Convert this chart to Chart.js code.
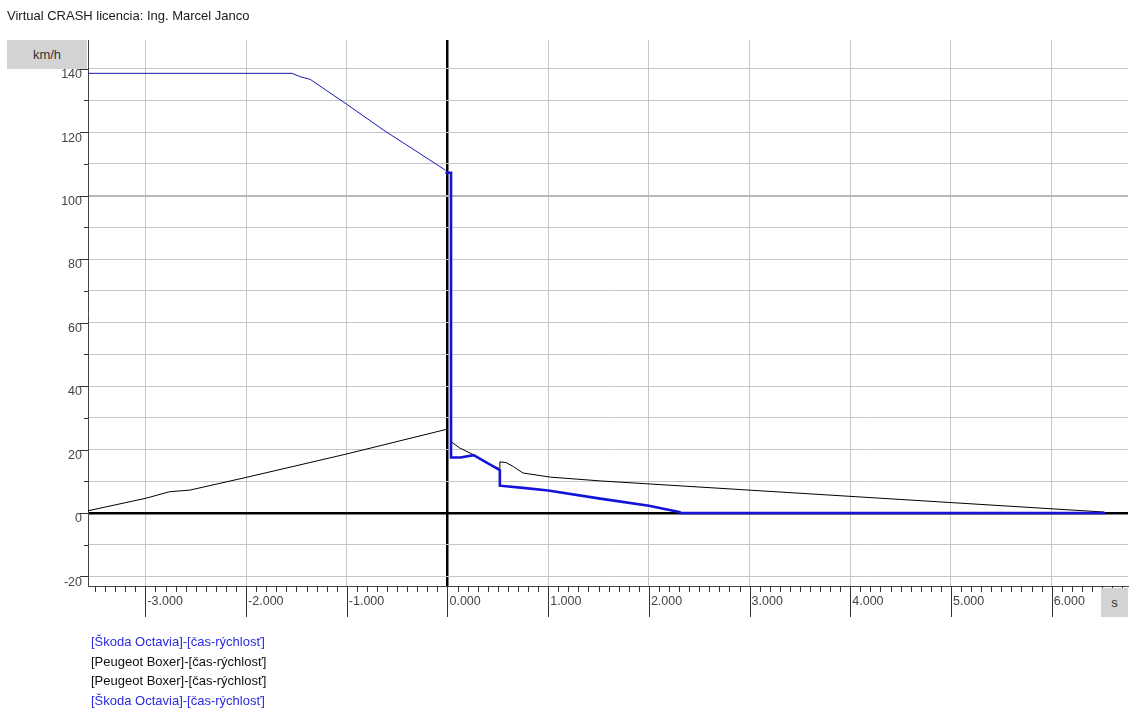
<!DOCTYPE html>
<html>
<head>
<meta charset="utf-8">
<script src="https://cdn.jsdelivr.net/npm/chart.js@4.4.1/dist/chart.umd.min.js"></script>
<style>
  html, body { margin:0; padding:0; background:#fff; }
  body { width:1130px; height:720px; position:relative; overflow:hidden; font-family:"Liberation Sans", Arial, sans-serif; }
  #title { position:absolute; left:7px; top:8px; font-size:13px; color:#1a1a1a; white-space:nowrap; }
  #wrap { position:absolute; left:0; top:0; width:1130px; height:720px; }
  .unit { position:absolute; background:#d3d3d3; color:#333; font-size:13px; display:flex; align-items:center; justify-content:center; }
  #yunit { left:7px; top:40px; width:80px; height:29px; }
  #xunit { left:1101px; top:588px; width:27px; height:29px; }
  #legend { position:absolute; left:91px; top:632px; font-size:13px; line-height:19.6px; white-space:nowrap; }
</style>
</head>
<body>
<div id="wrap"><canvas id="c" width="1130" height="720"></canvas></div>
<div id="title">Virtual CRASH licencia: Ing. Marcel Janco</div>
<div class="unit" id="yunit">km/h</div>
<div class="unit" id="xunit">s</div>
<div id="legend"></div>
<script>
// ---- data (time in s, speed in km/h) ----
const seriesNames = [
  "[Škoda Octavia]-[čas-rýchlosť]",
  "[Peugeot Boxer]-[čas-rýchlosť]",
  "[Peugeot Boxer]-[čas-rýchlosť]",
  "[Škoda Octavia]-[čas-rýchlosť]"
];
const octaviaPreT  = [-3.57, -1.545, -1.46, -1.363, -0.998, -0.634, -0.02];
const octaviaPreV  = [138.5, 138.5, 137.4, 136.6, 128.7, 120.6, 108.0];
const boxerPreT    = [-3.57, -3.0, -2.76, -2.56, -2.0, -1.0, -0.003];
const boxerPreV    = [0.7, 4.6, 6.7, 7.2, 11.2, 18.6, 26.4];
const boxerPostT   = [0.035, 0.12, 0.26, 0.36, 0.515, 0.52, 0.58, 0.655, 0.75, 1.02, 1.52, 6.52];
const boxerPostV   = [22.5, 20.5, 18.3, 16.2, 14.0, 16.1, 15.9, 14.6, 12.6, 11.3, 10.1, 0.3];
const octaviaPostT = [-0.02, 0.035, 0.035, 0.13, 0.26, 0.52, 0.52, 0.75, 1.0, 1.5, 2.0, 2.3, 2.32, 6.53];
const octaviaPostV = [107.2, 107.2, 17.5, 17.5, 18.2, 13.5, 8.6, 7.9, 7.1, 4.6, 2.3, 0.3, 0, 0];
const xTickLabels = [-3, -2, -1, 0, 1, 2, 3, 4, 5, 6];
const yTickLabels = [-20, 0, 20, 40, 60, 80, 100, 120, 140];

const X_MIN = -3.57, X_MAX = 6.758, Y_MIN = -23, Y_MAX = 149;

function pts(t, v) { return t.map((tt, i) => ({ x: tt, y: v[i] })); }

const BLUE_THIN = '#1818b0', BLUE_THICK = '#1414d8', BLACK = '#000000';
const legendColors = ['#2a2ae0', '#111', '#111', '#2a2ae0'];
document.getElementById('legend').innerHTML = seriesNames.map((n, i) =>
  '<div style="color:' + legendColors[i] + '">' + n + '</div>').join('');

const tickPlugin = {
  id: 'customTicks',
  afterDraw(chart) {
    const { ctx, scales: { x, y }, chartArea: a } = chart;
    ctx.save();
    ctx.strokeStyle = '#333';
    ctx.lineWidth = 1;
    ctx.beginPath();
    for (let k = Math.ceil(X_MIN * 10); k <= Math.floor(X_MAX * 10); k++) {
      const px = Math.round(x.getPixelForValue(k / 10)) + 0.5;
      const len = (k % 10 === 0) ? 31 : 6;
      ctx.moveTo(px, a.bottom);
      ctx.lineTo(px, a.bottom + len);
    }
    for (let k = Math.ceil(Y_MIN / 10); k <= Math.floor(Y_MAX / 10); k++) {
      const py = Math.round(y.getPixelForValue(k * 10)) + 0.5;
      const len = (k % 2 === 0) ? 8 : 4;
      ctx.moveTo(a.left - len, py);
      ctx.lineTo(a.left, py);
    }
    ctx.stroke();
    ctx.restore();
  }
};

new Chart(document.getElementById('c'), {
  type: 'line',
  data: {
    datasets: [
      { label: seriesNames[3], data: pts(octaviaPostT, octaviaPostV), borderColor: BLUE_THICK, borderWidth: 2.6 },
      { label: seriesNames[2], data: pts(boxerPostT, boxerPostV), borderColor: BLACK, borderWidth: 1 },
      { label: seriesNames[1], data: pts(boxerPreT, boxerPreV), borderColor: BLACK, borderWidth: 1 },
      { label: seriesNames[0], data: pts(octaviaPreT, octaviaPreV), borderColor: BLUE_THIN, borderWidth: 1 }
    ]
  },
  options: {
    responsive: false,
    animation: false,
    parsing: true,
    elements: { point: { radius: 0 }, line: { tension: 0, fill: false } },
    layout: { autoPadding: false, padding: { left: 0, right: 2, top: 40, bottom: 94 } },
    plugins: { legend: { display: false }, tooltip: { enabled: false } },
    scales: {
      x: {
        type: 'linear', min: X_MIN, max: X_MAX,
        afterFit: s => { s.height = 40; },
        border: { display: true, color: '#444', width: 1 },
        grid: {
          drawTicks: false,
          color: c => (c.tick && c.tick.value === 0) ? '#000' : '#c6c6c6',
          lineWidth: c => (c.tick && c.tick.value === 0) ? 2.5 : 1
        },
        ticks: {
          stepSize: 1, includeBounds: false, autoSkip: false, maxRotation: 0,
          align: 'start', labelOffset: 2, padding: 8,
          color: '#444', font: { family: '"Liberation Sans", Arial', size: 12.5 },
          callback: v => xTickLabels.includes(v) ? v.toFixed(3) : ''
        }
      },
      y: {
        type: 'linear', min: Y_MIN, max: Y_MAX,
        afterFit: s => { s.width = 88; },
        border: { display: true, color: '#444', width: 1 },
        grid: {
          drawTicks: false,
          color: c => (c.tick && c.tick.value === 0) ? '#000' : (c.tick && c.tick.value === 100 ? '#b8b8b8' : '#c6c6c6'),
          lineWidth: c => (c.tick && c.tick.value === 0) ? 2.5 : (c.tick && c.tick.value === 100 ? 2 : 1)
        },
        ticks: {
          stepSize: 10, includeBounds: false, autoSkip: false,
          labelOffset: 6, padding: 6,
          color: '#444', font: { family: '"Liberation Sans", Arial', size: 12.5 },
          callback: v => yTickLabels.includes(v) ? String(v) : ''
        }
      }
    }
  },
  plugins: [tickPlugin]
});
</script>
</body>
</html>
